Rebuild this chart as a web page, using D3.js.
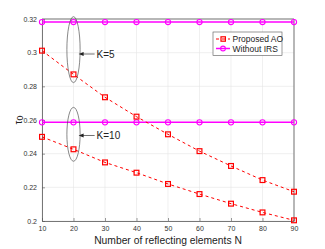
<!DOCTYPE html>
<html>
<head>
<meta charset="utf-8">
<script src="https://cdn.jsdelivr.net/npm/d3@7"></script>
<style>
  body { margin: 0; background: #fff; }
  text { font-family: "Liberation Sans", Arial, sans-serif; }
</style>
</head>
<body>
<div id="chart"></div>
<script>
// data
var elementsN = [10, 20, 30, 40, 50, 60, 70, 80, 90];
var proposedK5 = [0.3012, 0.2871, 0.2735, 0.2620, 0.2515, 0.2415, 0.2327, 0.2243, 0.2174];
var proposedK10 = [0.2500, 0.2426, 0.2348, 0.2287, 0.2220, 0.2160, 0.2103, 0.2051, 0.2004];
var withoutK5 = [0.3182, 0.3182, 0.3182, 0.3182, 0.3182, 0.3182, 0.3182, 0.3182, 0.3182];
var withoutK10 = [0.2586, 0.2586, 0.2586, 0.2586, 0.2586, 0.2586, 0.2586, 0.2586, 0.2586];
var xTicks = [10, 20, 30, 40, 50, 60, 70, 80, 90];
var yTicks = [0.2, 0.22, 0.24, 0.26, 0.28, 0.3, 0.32];
var legendNames = ["Proposed AO", "Without IRS"];
// annotations: [label, centre N, centre tau, half width N, half height tau, arrow tau]
var notes = [
  ["K=5", 20, 0.3018, 2.1, 0.0196, 0.2992],
  ["K=10", 20, 0.2515, 2.1, 0.0160, 0.2508]
];

var W = 325, H = 249;
var margin = {top: 19, right: 31, bottom: 28, left: 42};
var width = W - margin.left - margin.right,
    height = H - margin.top - margin.bottom;

var xScale = d3.scaleLinear().domain([10, 90]).range([0, width]);
var yScale = d3.scaleLinear().domain([0.2, 0.32]).range([height, 0]);

var svg = d3.select("#chart").append("svg")
    .attr("width", W).attr("height", H)
  .append("g")
    .attr("transform", "translate(" + margin.left + "," + margin.top + ")");

// grid
svg.selectAll(".gx").data(xTicks).enter().append("line")
  .attr("x1", d => xScale(d)).attr("x2", d => xScale(d))
  .attr("y1", 0).attr("y2", height)
  .attr("stroke", "#e6e6e6").attr("stroke-width", 0.6);
svg.selectAll(".gy").data(yTicks).enter().append("line")
  .attr("y1", d => yScale(d)).attr("y2", d => yScale(d))
  .attr("x1", 0).attr("x2", width)
  .attr("stroke", "#e6e6e6").attr("stroke-width", 0.6);

// axes
var axisColor = "#555";
var xAxis = svg.append("g").attr("transform", "translate(0," + height + ")")
  .call(d3.axisBottom(xScale).tickValues(xTicks).tickSize(-3).tickPadding(5).tickSizeOuter(0));
var yAxis = svg.append("g")
  .call(d3.axisLeft(yScale).tickValues(yTicks).tickSize(-3).tickPadding(5).tickSizeOuter(0)
    .tickFormat(d => d3.format("")(+d.toFixed(2))));
[xAxis, yAxis].forEach(function(a) {
  a.select(".domain").attr("stroke", axisColor).attr("stroke-width", 0.8);
  a.selectAll(".tick line").attr("stroke", axisColor).attr("stroke-width", 0.6);
  a.selectAll(".tick text").attr("fill", "#333").attr("font-size", "7px")
    .attr("font-family", "'Liberation Sans', Arial, sans-serif");
});
// box top/right
svg.append("line").attr("x1", 0).attr("x2", width).attr("y1", 0).attr("y2", 0)
  .attr("stroke", axisColor).attr("stroke-width", 0.8);
svg.append("line").attr("x1", width).attr("x2", width).attr("y1", 0).attr("y2", height)
  .attr("stroke", axisColor).attr("stroke-width", 0.8);

var line = d3.line().x((d, i) => xScale(elementsN[i])).y(d => yScale(d));

// without IRS
[withoutK5, withoutK10].forEach(function(s) {
  svg.append("path").datum(s).attr("d", line)
    .attr("fill", "none").attr("stroke", "#ff00ff").attr("stroke-width", 1.5);
  svg.selectAll(null).data(s).enter().append("circle")
    .attr("cx", (d, i) => xScale(elementsN[i])).attr("cy", d => yScale(d))
    .attr("r", 2.6).attr("fill", "none").attr("stroke", "#ff00ff").attr("stroke-width", 1.1);
});

// proposed AO
[proposedK5, proposedK10].forEach(function(s) {
  svg.append("path").datum(s).attr("d", line)
    .attr("fill", "none").attr("stroke", "#ff0000").attr("stroke-width", 1)
    .attr("stroke-dasharray", "3,3");
  svg.selectAll(null).data(s).enter().append("rect")
    .attr("x", (d, i) => xScale(elementsN[i]) - 2.4).attr("y", d => yScale(d) - 2.4)
    .attr("width", 4.8).attr("height", 4.8)
    .attr("fill", "none").attr("stroke", "#ff0000").attr("stroke-width", 1.2);
});

// annotations
var pxPerN = xScale(1) - xScale(0);
notes.forEach(function(n) {
  var cx = xScale(n[1]), cy = yScale(n[2]);
  svg.append("ellipse")
    .attr("cx", cx).attr("cy", cy)
    .attr("rx", n[3] * pxPerN).attr("ry", yScale(0.2) - yScale(0.2 + n[4]))
    .attr("fill", "none").attr("stroke", "#555").attr("stroke-width", 0.7);
  var ay = yScale(n[5]);
  var tipX = cx + n[3] * pxPerN - 1.5;
  svg.append("line").attr("x1", tipX + 4).attr("x2", tipX + 16)
    .attr("y1", ay).attr("y2", ay).attr("stroke", "#333").attr("stroke-width", 0.7);
  svg.append("path")
    .attr("d", "M" + tipX + "," + ay + "L" + (tipX + 5) + "," + (ay - 2) + "L" + (tipX + 5) + "," + (ay + 2) + "Z")
    .attr("fill", "#222");
  svg.append("text").attr("x", tipX + 18).attr("y", ay + 3.6)
    .attr("font-size", "10px").attr("fill", "#222").text(n[0]);
});

// legend
var leg = svg.append("g").attr("transform", "translate(" + (width - 81) + ",13)");
leg.append("rect").attr("width", 69).attr("height", 23.5)
  .attr("fill", "#fff").attr("stroke", "#555").attr("stroke-width", 0.6);
legendNames.forEach(function(name, i) {
  var y = 7 + i * 9.5;
  var g = leg.append("g").attr("transform", "translate(0," + y + ")");
  if (i === 0) {
    g.append("line").attr("x1", 3).attr("x2", 17).attr("y1", 0).attr("y2", 0)
      .attr("stroke", "#ff0000").attr("stroke-width", 1).attr("stroke-dasharray", "3,3");
    g.append("rect").attr("x", 8).attr("y", -2.2).attr("width", 4.4).attr("height", 4.4)
      .attr("fill", "none").attr("stroke", "#ff0000").attr("stroke-width", 1.2);
  } else {
    g.append("line").attr("x1", 3).attr("x2", 17).attr("y1", 0).attr("y2", 0)
      .attr("stroke", "#ff00ff").attr("stroke-width", 1.5);
    g.append("circle").attr("cx", 10).attr("cy", 0).attr("r", 2.4)
      .attr("fill", "none").attr("stroke", "#ff00ff").attr("stroke-width", 1.1);
  }
  g.append("text").attr("x", 19.5).attr("y", 3).attr("font-size", "8.5px")
    .attr("fill", "#222").text(name);
});

// axis labels
svg.append("text")
  .attr("x", width / 2).attr("y", height + 23)
  .attr("text-anchor", "middle").attr("font-size", "10.3px").attr("fill", "#222")
  .text("Number of reflecting elements N");
var yl = svg.append("text")
  .attr("transform", "translate(-20," + (height / 2) + ") rotate(-90)")
  .attr("text-anchor", "middle").attr("font-size", "10px").attr("fill", "#222");
yl.append("tspan").text("τ");
yl.append("tspan").attr("font-size", "9px").attr("dy", 1).text("0");
</script>
</body>
</html>
